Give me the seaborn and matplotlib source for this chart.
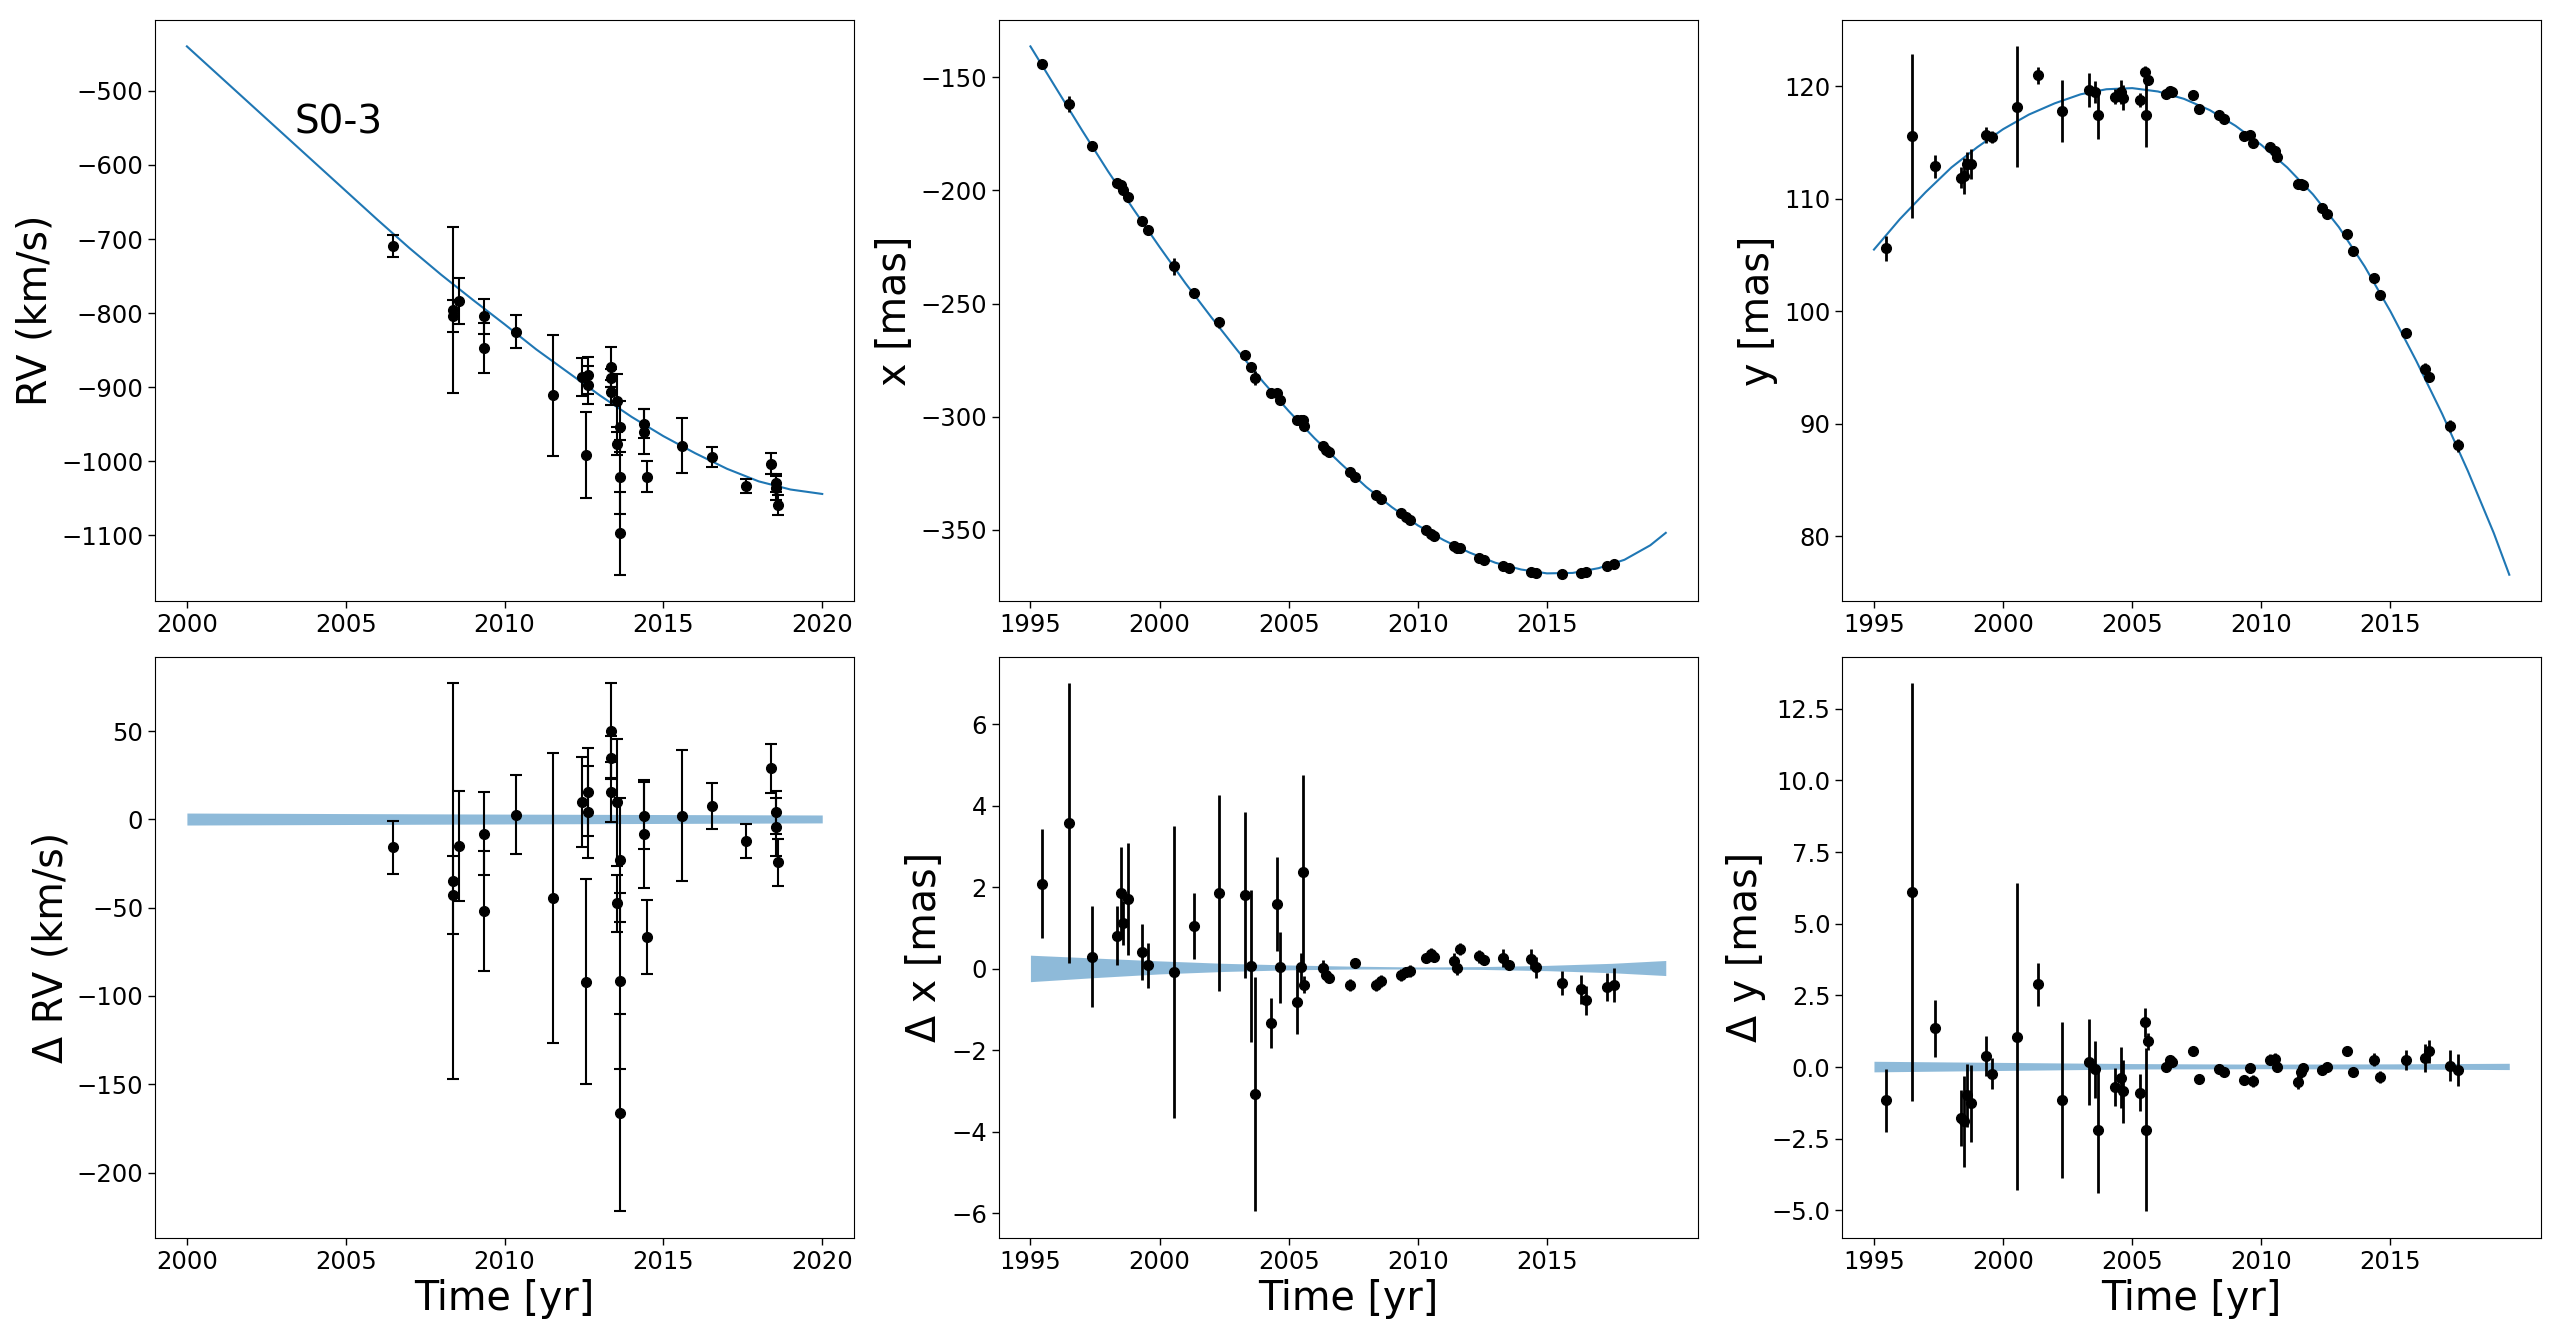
import matplotlib
matplotlib.use('Agg')
import matplotlib.pyplot as plt
import numpy as np
import pandas as pd
import seaborn as sns

# ---- radial velocity data (S0-3) ----
rv_t = [2006.50, 2008.38, 2008.38, 2008.57, 2009.36, 2009.36, 2010.35, 2011.51,
        2012.43, 2012.56, 2012.63, 2012.63, 2013.35, 2013.35, 2013.35, 2013.55,
        2013.63, 2013.55, 2013.63, 2013.63, 2014.38, 2014.38, 2014.49, 2015.57,
        2016.54, 2017.60, 2018.38, 2018.55, 2018.56, 2018.60]
rv = [-709, -796, -804, -783, -804, -847, -825, -911,
      -886, -991, -884, -897, -873, -887, -907, -918,
      -953, -976, -1021, -1097, -949, -960, -1021, -979,
      -994, -1033, -1003, -1029, -1036, -1059]
rv_err = [15, 112, 22, 31, 23.5, 34, 22.4, 82,
          25.5, 58, 25, 26, 27, 12, 17, 36,
          35, 16, 50, 56, 19, 30.5, 21, 37,
          13, 9.6, 14, 12, 16.5, 13.4]
rv_res = [-15.7, -34.8, -42.8, -15.2, -8.2, -51.7, 2.7, -44.5,
          9.7, -92.0, 15.7, 4.0, 50.2, 35.0, 15.4, 9.7,
          -22.9, -47.5, -91.5, -166.0, 2.2, -8.2, -66.7, 2.2,
          7.5, -12.4, 28.9, 4.0, -4.5, -24.4]

# RV model curve, read once per year
rv_model_t = list(range(2000, 2021))
rv_model = [-440, -479, -518, -557, -596, -635, -674, -712, -748, -782, -815,
            -849, -880, -911, -940, -966, -989, -1010, -1027, -1038, -1044]
# RV model uncertainty band (residual panel)
rv_band_t = [2000, 2010, 2020]
rv_band_hi = [3.6, 3.0, 2.5]
rv_band_lo = [-3.2, -2.6, -2.0]

# ---- astrometry ----
ast_t = [1995.46, 1996.49, 1997.38, 1998.37, 1998.49, 1998.60, 1998.77, 1999.33,
         1999.57, 2000.55, 2001.35, 2002.29, 2003.31, 2003.55, 2003.68, 2004.32,
         2004.55, 2004.65, 2005.32, 2005.49, 2005.55, 2005.60, 2006.32, 2006.46,
         2006.55, 2007.36, 2007.58, 2008.37, 2008.56, 2009.33, 2009.55, 2009.68,
         2010.33, 2010.51, 2010.61, 2011.40, 2011.52, 2011.63, 2012.35, 2012.55,
         2013.31, 2013.53, 2014.37, 2014.58, 2015.60, 2016.33, 2016.50, 2017.32,
         2017.60]
x_obs = [-144.2, -161.8, -180.2, -196.7, -197.8, -200.0, -202.9, -213.5,
         -217.3, -233.6, -245.3, -258.2, -272.7, -278.0, -282.9, -289.6,
         -289.6, -292.7, -301.3, -301.3, -301.5, -304.2, -313.1, -314.9,
         -315.8, -324.5, -326.5, -334.4, -336.4, -342.7, -344.5, -345.8,
         -350.0, -351.8, -352.7, -357.3, -358.0, -358.2, -362.2, -363.1,
         -365.8, -366.9, -368.5, -369.1, -369.5, -369.1, -368.7, -366.0,
         -364.9]
x_err = [1.34, 3.44, 1.24, 0.73, 1.13, 0.53, 1.37, 0.69,
         0.56, 3.59, 0.81, 2.40, 2.03, 1.87, 2.88, 0.62,
         1.15, 0.88, 0.80, 0.35, 2.38, 0.20, 0.18, 0.10,
         0.10, 0.15, 0.12, 0.15, 0.15, 0.15, 0.12, 0.15,
         0.12, 0.15, 0.12, 0.20, 0.18, 0.15, 0.15, 0.12,
         0.22, 0.10, 0.25, 0.25, 0.30, 0.35, 0.35, 0.35,
         0.42]
dx_res = [2.08, 3.57, 0.29, 0.81, 1.86, 1.12, 1.71, 0.40,
          0.08, -0.08, 1.04, 1.85, 1.81, 0.06, -3.08, -1.34,
          1.58, 0.03, -0.81, 0.03, 2.37, -0.39, 0.02, -0.16,
          -0.22, -0.40, 0.13, -0.40, -0.30, -0.16, -0.08, -0.06,
          0.27, 0.35, 0.28, 0.18, 0.02, 0.49, 0.30, 0.22,
          0.25, 0.09, 0.23, 0.03, -0.35, -0.51, -0.78, -0.45,
          -0.40]
y_obs = [105.6, 115.6, 112.9, 111.9, 112.0, 113.1, 113.1, 115.7,
         115.5, 118.2, 121.0, 117.8, 119.7, 119.5, 117.5, 119.1,
         119.5, 119.0, 118.8, 121.3, 117.5, 120.6, 119.35, 119.55,
         119.5, 119.2, 118.0, 117.5, 117.1, 115.6, 115.7, 115.0,
         114.6, 114.3, 113.7, 111.3, 111.3, 111.2, 109.2, 108.7,
         106.9, 105.4, 103.0, 101.5, 98.1, 94.9, 94.2, 89.8,
         88.1]
y_err = [1.10, 7.30, 1.00, 0.97, 1.60, 1.10, 1.35, 0.70,
         0.55, 5.36, 0.76, 2.73, 1.50, 1.00, 2.20, 0.66,
         1.07, 1.10, 0.65, 0.51, 2.85, 0.30, 0.10, 0.15,
         0.10, 0.15, 0.12, 0.12, 0.12, 0.15, 0.12, 0.20,
         0.20, 0.20, 0.12, 0.25, 0.20, 0.15, 0.15, 0.12,
         0.15, 0.12, 0.22, 0.20, 0.35, 0.50, 0.40, 0.55,
         0.55]
dy_res = [-1.16, 6.10, 1.35, -1.78, -1.90, -0.98, -1.27, 0.37,
          -0.23, 1.06, 2.88, -1.16, 0.18, -0.08, -2.19, -0.70,
          -0.37, -0.84, -0.90, 1.56, -2.19, 0.90, 0.00, 0.24,
          0.18, 0.55, -0.41, -0.06, -0.18, -0.46, -0.05, -0.49,
          0.26, 0.28, 0.00, -0.51, -0.18, -0.05, -0.12, 0.00,
          0.55, -0.18, 0.26, -0.35, 0.26, 0.31, 0.55, 0.05,
          -0.11]

# astrometric model curves, read once per year
ast_model_t = list(range(1995, 2020)) + [2019.6]
x_model = [-136.4, -155.0, -173.5, -191.5, -208.5, -225.0, -241.0, -256.0,
           -270.5, -284.5, -297.5, -309.5, -320.5, -331.0, -340.0, -348.0,
           -354.5, -360.0, -364.5, -367.5, -369.2, -369.0, -366.9, -363.2,
           -356.8, -351.3]
y_model = [105.5, 108.2, 110.6, 112.8, 114.6, 116.2, 117.5, 118.5,
           119.3, 119.75, 119.85, 119.55, 118.9, 117.9, 116.5, 114.8,
           112.8, 110.4, 107.5, 104.0, 100.0, 95.6, 90.9, 85.8,
           80.3, 76.6]

# model uncertainty bands for the astrometric residuals
dx_band_t = [1995, 1997.5, 2000, 2002.5, 2005, 2007.5, 2010, 2012.5, 2015, 2017.5, 2019.6]
dx_band_hi = [0.33, 0.26, 0.19, 0.13, 0.09, 0.06, 0.04, 0.05, 0.08, 0.13, 0.20]
dx_band_lo = [-0.32, -0.22, -0.13, -0.07, -0.03, -0.01, -0.01, -0.02, -0.05, -0.10, -0.17]
dy_band_t = [1995, 2000, 2005, 2010, 2015, 2019.6]
dy_band_hi = [0.20, 0.16, 0.12, 0.10, 0.11, 0.13]
dy_band_lo = [-0.17, -0.12, -0.07, -0.06, -0.07, -0.09]

TICK_FS = 17.5
LABEL_FS = 28.5

fig, axes = plt.subplots(2, 3, figsize=(25.6, 13.31), dpi=100)
fig.subplots_adjust(left=0.0606, right=0.9926, bottom=0.070, top=0.985,
                     wspace=0.207, hspace=0.0955)

pt_kw = dict(fmt='o', color='k', ms=7, zorder=3)


def draw_model(ax, t, vals):
    df = pd.DataFrame({'t': t, 'v': vals})
    sns.lineplot(data=df, x='t', y='v', ax=ax, color='C0', lw=1.5,
                 estimator=None, sort=True, zorder=2)
    ax.set_xlabel('')
    ax.set_ylabel('')


#RV panel
ax = axes[0, 0]
ax.errorbar(rv_t, rv, yerr=rv_err, capsize=4.5, elinewidth=1.5, capthick=1.5, **pt_kw)
draw_model(ax, rv_model_t, rv_model)
ax.text(2003.4, -543, 'S0-3', fontsize=28, va='center', ha='left')
ax.set_ylabel('RV (km/s)', fontsize=LABEL_FS)
ax.set_xticks([2000, 2005, 2010, 2015, 2020])
ax.set_yticks([-500, -600, -700, -800, -900, -1000, -1100])

#x panel
ax = axes[0, 1]
ax.errorbar(ast_t, x_obs, yerr=x_err, elinewidth=2, **pt_kw)
draw_model(ax, ast_model_t, x_model)
ax.set_ylabel('x [mas]', fontsize=LABEL_FS)
ax.set_xticks([1995, 2000, 2005, 2010, 2015])
ax.set_yticks([-150, -200, -250, -300, -350])

#y panel
ax = axes[0, 2]
ax.errorbar(ast_t, y_obs, yerr=y_err, elinewidth=2, **pt_kw)
draw_model(ax, ast_model_t, y_model)
ax.set_ylabel('y [mas]', fontsize=LABEL_FS)
ax.set_xticks([1995, 2000, 2005, 2010, 2015])
ax.set_yticks([80, 90, 100, 110, 120])

#residuals
ax = axes[1, 0]
ax.fill_between(rv_band_t, rv_band_lo, rv_band_hi, color='C0', alpha=0.5, lw=0, zorder=1)
ax.errorbar(rv_t, rv_res, yerr=rv_err, capsize=4.5, elinewidth=1.5, capthick=1.5, **pt_kw)
ax.set_ylabel('Δ RV (km/s)', fontsize=LABEL_FS)
ax.set_xticks([2000, 2005, 2010, 2015, 2020])
ax.set_yticks([50, 0, -50, -100, -150, -200])

ax = axes[1, 1]
ax.fill_between(dx_band_t, dx_band_lo, dx_band_hi, color='C0', alpha=0.5, lw=0, zorder=1)
ax.errorbar(ast_t, dx_res, yerr=x_err, elinewidth=2, **pt_kw)
ax.set_ylabel('Δ x [mas]', fontsize=LABEL_FS)
ax.set_xticks([1995, 2000, 2005, 2010, 2015])
ax.set_yticks([-6, -4, -2, 0, 2, 4, 6])

ax = axes[1, 2]
ax.fill_between(dy_band_t, dy_band_lo, dy_band_hi, color='C0', alpha=0.5, lw=0, zorder=1)
ax.errorbar(ast_t, dy_res, yerr=y_err, elinewidth=2, **pt_kw)
ax.set_ylabel('Δ y [mas]', fontsize=LABEL_FS)
ax.set_xticks([1995, 2000, 2005, 2010, 2015])
ax.set_yticks([-5.0, -2.5, 0.0, 2.5, 5.0, 7.5, 10.0, 12.5])

for a in axes[1]:
    a.set_xlabel('Time [yr]', fontsize=LABEL_FS)

for a in axes.flat:
    a.tick_params(labelsize=TICK_FS, size=5, width=1)

fig.savefig('out.png', dpi=100)
